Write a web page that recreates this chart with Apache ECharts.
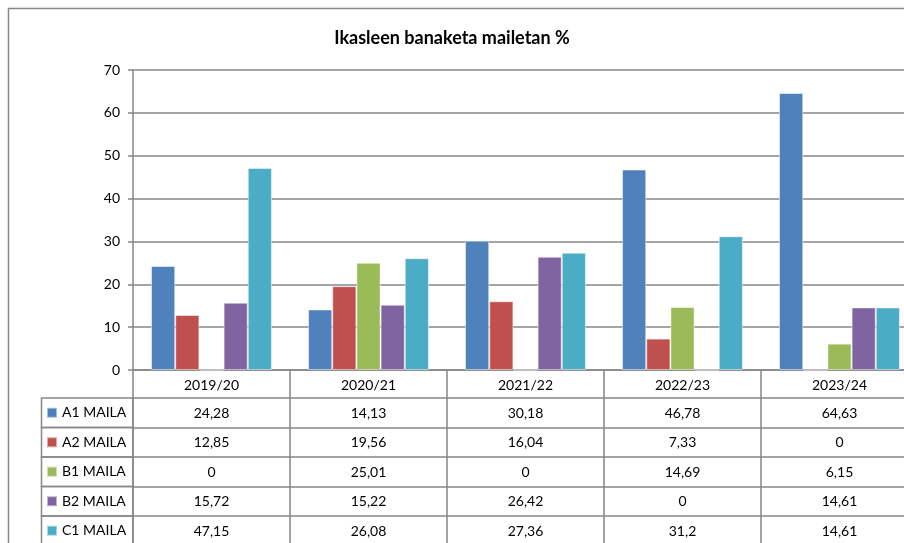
<!DOCTYPE html>
<html>
<head>
<meta charset="utf-8">
<title>Ikasleen banaketa mailetan %</title>
<script src="https://cdn.jsdelivr.net/npm/echarts@6.0.0/dist/echarts.min.js"></script>
<style>
html, body { margin: 0; padding: 0; background: #fff; }
#chart { width: 904px; height: 543px; }
</style>
</head>
<body>
<div id="chart"></div>
<script>
// datuak
var ikasturteak = ['2019/20', '2020/21', '2021/22', '2022/23', '2023/24'];
var mailak = ['A1 MAILA', 'A2 MAILA', 'B1 MAILA', 'B2 MAILA', 'C1 MAILA'];
var a1 = [24.28, 14.13, 30.18, 46.78, 64.63];
var a2 = [12.85, 19.56, 16.04, 7.33, 0];
var b1 = [0, 25.01, 0, 14.69, 6.15];
var b2 = [15.72, 15.22, 26.42, 0, 14.61];
var c1 = [47.15, 26.08, 27.36, 31.2, 14.61];
var yMin = 0, yMax = 70, yTartea = 10;

var datuak = [a1, a2, b1, b2, c1];
var koloreak = ['#4f81bd', '#c0504d', '#9bbb59', '#8064a2', '#4bacc6'];

var lerroa = '#878787';
var letra = 'Lato';
var gridLeft = 133, gridTop = 70, gridH = 300, zutabea = 157;
var goiburua = 28;     // urteen errenkada
var errenkada = 29.5;  // taulako errenkada bakoitza

function komaz(v) {
	return String(v).replace('.', ',');
}

var myChart = echarts.init(document.getElementById('chart'));

// x ardatz nagusia + taulako errenkada bakoitzeko ardatz bat
var xAxes = [{
	type: 'category',
	data: ikasturteak,
	position: 'bottom',
	axisLine: { lineStyle: { color: lerroa, width: 1.5 } },
	axisTick: { show: true, interval: 0, length: goiburua, lineStyle: { color: lerroa, width: 1.5 } },
	axisLabel: { interval: 0, margin: 8, color: '#000', fontFamily: letra, fontSize: 14 },
	splitLine: { show: false }
}];
datuak.forEach(function(d, i) {
	xAxes.push({
		type: 'category',
		gridIndex: 0,
		data: d.map(komaz),
		position: 'bottom',
		offset: goiburua + errenkada * i,
		axisLine: { show: true, lineStyle: { color: lerroa, width: 1.5 } },
		axisTick: { show: true, interval: 0, length: errenkada, lineStyle: { color: lerroa, width: 1.5 } },
		axisLabel: { interval: 0, margin: 8, color: '#000', fontFamily: letra, fontSize: 14 },
		splitLine: { show: false }
	});
});

var series = datuak.map(function(d, i) {
	return {
		name: mailak[i],
		type: 'bar',
		xAxisIndex: 0,
		data: d,
		barGap: '0%',
		barCategoryGap: '23%',
		itemStyle: { color: koloreak[i], borderColor: 'rgba(255,255,255,0.5)', borderWidth: 1 }
	};
});

// marko nagusia (ezker eta goi ertzak) eta legend zutabeko gelaxkak
var gelaxkak = [{
	type: 'polyline',
	shape: { points: [[8.5, 1200], [8.5, 8.5], [1200, 8.5]] },
	style: { fill: null, stroke: lerroa, lineWidth: 1.5 },
	silent: true
}];
mailak.forEach(function(m, i) {
	gelaxkak.push({
		type: 'rect',
		shape: { x: 41.5, y: gridTop + gridH + goiburua + errenkada * i, width: gridLeft - 41.5, height: errenkada },
		style: { fill: 'none', stroke: lerroa, lineWidth: 1.5 },
		silent: true
	});
});

var option = {
	animation: false,
	backgroundColor: '#fff',
	title: {
		text: 'Ikasleen banaketa mailetan %',
		left: 'center',
		top: 24,
		textStyle: { fontFamily: letra, fontSize: 18, fontWeight: 'bold', color: '#000' }
	},
	legend: {
		data: mailak,
		orient: 'vertical',
		left: 46,
		top: gridTop + gridH + goiburua,
		height: errenkada * mailak.length + 20,
		padding: 0,
		itemWidth: 10,
		itemHeight: 10,
		itemGap: 0,
		icon: 'rect',
		selectedMode: false,
		textStyle: { fontFamily: letra, fontSize: 14, color: '#000', lineHeight: errenkada }
	},
	grid: {
		left: gridLeft,
		top: gridTop,
		width: zutabea * ikasturteak.length,
		height: gridH,
		containLabel: false,
		outerBoundsMode: 'none'
	},
	xAxis: xAxes,
	yAxis: {
		type: 'value',
		min: yMin,
		max: yMax,
		interval: yTartea,
		axisLine: { show: true, lineStyle: { color: lerroa, width: 1.5 } },
		axisTick: { show: true, length: 5, lineStyle: { color: lerroa, width: 1.5 } },
		axisLabel: { margin: 13, color: '#000', fontFamily: letra, fontSize: 14 },
		splitLine: { lineStyle: { color: lerroa, width: 1.5 } }
	},
	graphic: gelaxkak,
	series: series
};

myChart.setOption(option);
</script>
</body>
</html>
